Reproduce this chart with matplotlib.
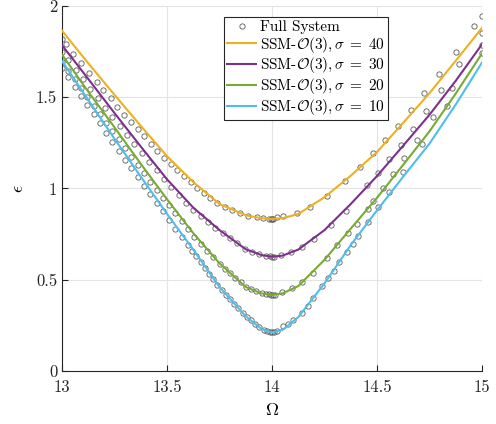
import numpy as np
import matplotlib
matplotlib.use("Agg")
import matplotlib.pyplot as plt

plt.rcParams['font.family'] = 'serif'
plt.rcParams['font.serif'] = ['cmr10']
plt.rcParams['mathtext.fontset'] = 'cm'
plt.rcParams['axes.formatter.use_mathtext'] = True

# SSM curves
omega_ssm = [13.0, 13.125, 13.25, 13.375, 13.5, 13.625, 13.75, 13.875, 13.95, 14.0,
             14.05, 14.125, 14.25, 14.375, 14.5, 14.625, 14.75, 14.875, 15.0]
eps_s40 = [1.864, 1.686, 1.513, 1.343, 1.177, 1.035, 0.915, 0.853, 0.837, 0.834,
           0.837, 0.86, 0.952, 1.07, 1.20, 1.36, 1.522, 1.70, 1.88]
eps_s30 = [1.785, 1.60, 1.413, 1.23, 1.05, 0.895, 0.772, 0.667, 0.635, 0.626,
           0.632, 0.665, 0.772, 0.915, 1.068, 1.235, 1.404, 1.59, 1.79]
eps_s20 = [1.733, 1.53, 1.335, 1.135, 0.941, 0.755, 0.59, 0.46, 0.425, 0.418,
           0.425, 0.465, 0.609, 0.78, 0.949, 1.13, 1.313, 1.52, 1.74]
eps_s10 = [1.698, 1.485, 1.272, 1.065, 0.861, 0.665, 0.46, 0.30, 0.23, 0.212,
           0.225, 0.295, 0.48, 0.69, 0.88, 1.065, 1.246, 1.46, 1.69]

# full system points
om_f40 = [13.0, 13.019, 13.054, 13.092, 13.129, 13.165, 13.197, 13.232, 13.263, 13.295,
          13.329, 13.36, 13.392, 13.422, 13.454, 13.486, 13.517, 13.548, 13.581, 13.613,
          13.644, 13.676, 13.705, 13.74, 13.776, 13.811, 13.848, 13.887, 13.927, 13.959,
          13.985, 13.993, 14.0, 14.007, 14.022, 14.054, 14.117, 14.181, 14.26, 14.348,
          14.419, 14.483, 14.538, 14.598, 14.66, 14.724, 14.795, 14.875, 14.963, 15.0]
ep_f40 = [1.818, 1.791, 1.737, 1.686, 1.635, 1.586, 1.54, 1.493, 1.448, 1.404,
          1.364, 1.324, 1.286, 1.246, 1.208, 1.168, 1.132, 1.099, 1.068, 1.035,
          1.004, 0.977, 0.95, 0.923, 0.899, 0.881, 0.865, 0.85, 0.841, 0.837,
          0.834, 0.833, 0.833, 0.834, 0.841, 0.848, 0.865, 0.899, 0.959, 1.041,
          1.119, 1.192, 1.267, 1.344, 1.431, 1.522, 1.626, 1.746, 1.891, 1.945]

om_f30 = [13.0, 13.03, 13.065, 13.1, 13.135, 13.17, 13.205, 13.24, 13.275, 13.31,
          13.345, 13.38, 13.415, 13.45, 13.485, 13.52, 13.555, 13.59, 13.625, 13.66,
          13.695, 13.73, 13.765, 13.8, 13.835, 13.87, 13.905, 13.94, 13.97, 13.99,
          14.0, 14.008, 14.041, 14.089, 14.141, 14.201, 14.281, 14.352, 14.454, 14.506,
          14.559, 14.613, 14.67, 14.733, 14.805, 14.89, 15.0]
ep_f30 = [1.745, 1.702, 1.650, 1.598, 1.546, 1.495, 1.443, 1.393, 1.343, 1.293,
          1.244, 1.196, 1.147, 1.099, 1.051, 1.006, 0.964, 0.923, 0.882, 0.851,
          0.818, 0.786, 0.754, 0.727, 0.699, 0.670, 0.653, 0.639, 0.631, 0.628,
          0.627, 0.627, 0.638, 0.65, 0.677, 0.723, 0.799, 0.877, 1.017, 1.083,
          1.162, 1.237, 1.326, 1.426, 1.541, 1.68, 1.854]

om_f20 = [13.0, 13.03, 13.06, 13.09, 13.12, 13.15, 13.18, 13.21, 13.24, 13.27,
          13.3, 13.33, 13.36, 13.39, 13.42, 13.45, 13.48, 13.51, 13.54, 13.57,
          13.6, 13.63, 13.66, 13.69, 13.72, 13.75, 13.775, 13.8, 13.825, 13.85,
          13.875, 13.9, 13.925, 13.95, 13.97, 13.985, 13.995, 14.005, 14.015, 14.046,
          14.097, 14.141, 14.197, 14.263, 14.31, 14.36, 14.403, 14.455, 14.483, 14.527,
          14.575, 14.63, 14.692, 14.765, 14.859, 15.0]
ep_f20 = [1.693, 1.645, 1.597, 1.548, 1.500, 1.453, 1.407, 1.361, 1.316, 1.269,
          1.222, 1.175, 1.128, 1.083, 1.037, 0.993, 0.948, 0.907, 0.863, 0.821,
          0.778, 0.736, 0.698, 0.660, 0.623, 0.584, 0.559, 0.535, 0.510, 0.486,
          0.460, 0.448, 0.437, 0.425, 0.422, 0.420, 0.419, 0.418, 0.419, 0.432,
          0.456, 0.487, 0.538, 0.62, 0.69, 0.754, 0.805, 0.885, 0.93, 1.005,
          1.077, 1.168, 1.267, 1.391, 1.549, 1.785]

om_f10 = [13.0, 13.03, 13.06, 13.09, 13.12, 13.15, 13.18, 13.21, 13.24, 13.27,
          13.3, 13.33, 13.36, 13.39, 13.42, 13.45, 13.48, 13.51, 13.54, 13.57,
          13.6, 13.62, 13.64, 13.66, 13.68, 13.7, 13.72, 13.74, 13.76, 13.78,
          13.8, 13.82, 13.84, 13.86, 13.88, 13.9, 13.92, 13.94, 13.96, 13.975,
          13.99, 14.0, 14.01, 14.025, 14.051, 14.075, 14.102, 14.141, 14.17, 14.197,
          14.238, 14.268, 14.295, 14.321, 14.356, 14.385, 14.411, 14.459, 14.506, 14.557,
          14.622, 14.713, 14.835, 15.0]
ep_f10 = [1.658, 1.608, 1.557, 1.507, 1.456, 1.406, 1.356, 1.305, 1.255, 1.206,
          1.158, 1.111, 1.063, 1.016, 0.969, 0.922, 0.875, 0.826, 0.780, 0.735,
          0.690, 0.660, 0.628, 0.597, 0.565, 0.534, 0.502, 0.470, 0.442, 0.418,
          0.393, 0.368, 0.344, 0.319, 0.295, 0.277, 0.258, 0.239, 0.226, 0.221,
          0.216, 0.212, 0.213, 0.22, 0.245, 0.26, 0.278, 0.318, 0.355, 0.40,
          0.465, 0.51, 0.55, 0.596, 0.65, 0.695, 0.741, 0.819, 0.896, 0.981,
          1.09, 1.244, 1.45, 1.744]

sigmas = [40, 30, 20, 10]
colors = ['#EDB120', '#7E2F8E', '#77AC30', '#4DBEEE']
xticks = [13, 13.5, 14, 14.5, 15]
xtick_labels = ['13', '13.5', '14', '14.5', '15']
yticks = [0, 0.5, 1, 1.5, 2]
ytick_labels = ['0', '0.5', '1', '1.5', '2']

fig = plt.figure(figsize=(4.96, 4.24), dpi=100)
ax = fig.add_axes([0.125, 0.125, 0.8468, 0.861])

full_om = om_f40 + om_f30 + om_f20 + om_f10
full_ep = ep_f40 + ep_f30 + ep_f20 + ep_f10
ax.plot(full_om, full_ep, 'o', ms=3.8, mfc='none', mec='0.35', mew=0.6,
        label='Full System', zorder=2)

ssm = [eps_s40, eps_s30, eps_s20, eps_s10]
for eps, s, c in zip(ssm, sigmas, colors):
    ax.plot(omega_ssm, eps, color=c, lw=1.5, zorder=3,
            label='SSM-$\\mathcal{O}(3),\\sigma\\;=\\;%d$' % s)

ax.set_xlim(13, 15)
ax.set_ylim(0, 2)
ax.set_xticks(xticks)
ax.set_xticklabels(xtick_labels)
ax.set_yticks(yticks)
ax.set_yticklabels(ytick_labels)
ax.tick_params(direction='in', length=4, width=0.8, colors='#262626', labelsize=12)
ax.tick_params(axis='x', pad=6)
for sp in ['top', 'right']:
    ax.spines[sp].set_visible(False)
for sp in ['left', 'bottom']:
    ax.spines[sp].set_color('#262626')
    ax.spines[sp].set_linewidth(0.8)
ax.grid(True, color='#e3e3e3', lw=0.8)
ax.set_axisbelow(True)

ax.set_xlabel('$\\Omega$', fontsize=13, labelpad=5)
ax.set_ylabel('$\\epsilon$', fontsize=13, labelpad=7)

leg = ax.legend(loc='upper left', bbox_to_anchor=(0.386, 0.97), borderaxespad=0,
                fontsize=11, handlelength=1.9, handletextpad=0.25, labelspacing=0.05,
                borderpad=0.2, fancybox=False, framealpha=1, edgecolor='#262626')
leg.get_frame().set_linewidth(0.8)

fig.savefig('out.png', dpi=100)
